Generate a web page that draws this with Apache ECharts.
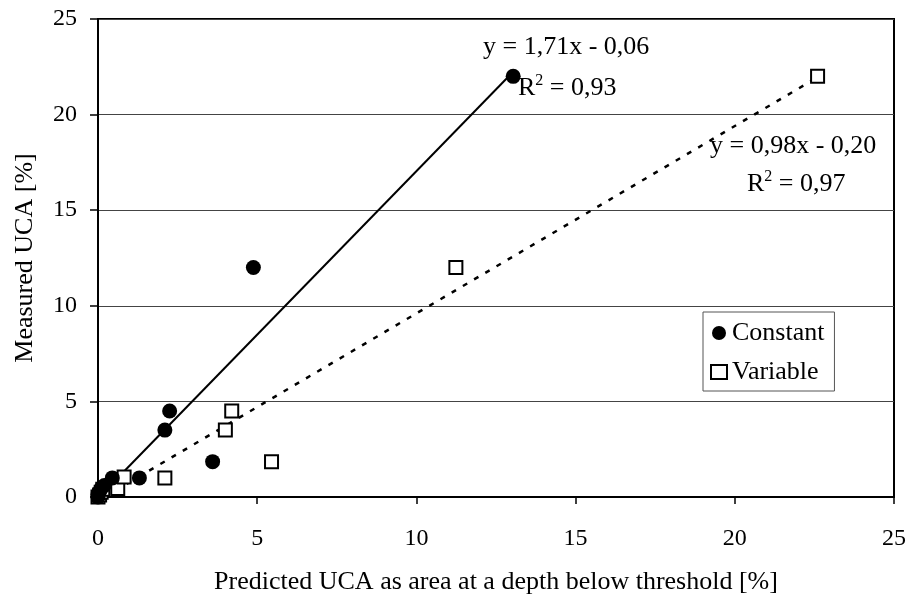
<!DOCTYPE html>
<html>
<head>
<meta charset="utf-8">
<script src="https://cdn.jsdelivr.net/npm/echarts@6/dist/echarts.min.js"></script>
<style>
html,body{margin:0;padding:0;background:#fff;}
#chart{width:910px;height:600px;}
</style>
</head>
<body>
<div id="chart"></div>
<script>
// Data
const constantPoints = [
  [0, 0], [0, 0.15], [0.05, 0.3], [0.1, 0.45], [0.2, 0.6],
  [0.45, 1.0], [1.3, 1.0], [2.1, 3.5], [2.25, 4.5], [3.6, 1.85],
  [4.88, 12], [13.04, 22]
];
const variablePoints = [
  [0, 0], [0.05, 0.1], [0.1, 0.25], [0.15, 0.4],
  [0.62, 0.45], [0.82, 1.05], [2.1, 1.0], [4.0, 3.5], [4.2, 4.5],
  [5.45, 1.85], [11.24, 12], [22.6, 22]
];
// trend line endpoints
const constantTrend = [[0.035, 0], [13.04, 22.24]];
const variableTrend = [[0.2, 0], [22.6, 21.95]];
const seriesNames = ['Constant', 'Variable'];
const constantEq = ['y = 1,71x - 0,06', '0,93'];
const variableEq = ['y = 0,98x - 0,20', '0,97'];
const axisTicks = [0, 5, 10, 15, 20, 25];

const FONT = 'Liberation Serif';
const chart = echarts.init(document.getElementById('chart'), null, {renderer: 'canvas'});

function r2Text(val) {
  return '{n|R}{s|2}{n| = ' + val + '}';
}
const r2Rich = {
  n: {fontFamily: FONT, fontSize: 26, fill: '#000', lineHeight: 28, verticalAlign: 'bottom'},
  s: {fontFamily: FONT, fontSize: 16, fill: '#000', lineHeight: 28, verticalAlign: 'top'}
};

chart.setOption({
  animation: false,
  backgroundColor: '#fff',
  textStyle: {fontFamily: FONT, color: '#000'},
  grid: {
    left: 98, top: 19, right: 16, bottom: 103,
    show: true, borderColor: '#000', borderWidth: 2, backgroundColor: 'transparent'
  },
  xAxis: {
    type: 'value', min: axisTicks[0], max: axisTicks[axisTicks.length - 1], interval: 5,
    name: 'Predicted UCA as area at a depth below threshold [%]',
    nameLocation: 'middle', nameGap: 72,
    nameTextStyle: {fontFamily: FONT, fontSize: 26, color: '#000'},
    axisLine: {show: true, lineStyle: {color: '#000', width: 2}},
    axisTick: {show: true, inside: false, length: 7, lineStyle: {color: '#000', width: 1.5}},
    axisLabel: {fontFamily: FONT, fontSize: 24, color: '#000', margin: 30},
    splitLine: {show: false}
  },
  yAxis: {
    type: 'value', min: axisTicks[0], max: axisTicks[axisTicks.length - 1], interval: 5,
    name: 'Measured UCA [%]',
    nameLocation: 'middle', nameGap: 60,
    nameTextStyle: {fontFamily: FONT, fontSize: 26, color: '#000'},
    axisLine: {show: true, lineStyle: {color: '#000', width: 2}},
    axisTick: {show: true, inside: false, length: 8, lineStyle: {color: '#000', width: 1.5}},
    axisLabel: {fontFamily: FONT, fontSize: 24, color: '#000', margin: 21},
    splitLine: {show: true, lineStyle: {color: '#444', width: 1}}
  },
  legend: {
    data: [
      {name: seriesNames[0], icon: 'circle'},
      {name: seriesNames[1], icon: 'rect'}
    ],
    orient: 'vertical',
    left: 703, top: 312,
    padding: [8, 10, 6, 7],
    itemGap: 13,
    itemWidth: 16, itemHeight: 14,
    backgroundColor: '#fff',
    borderColor: '#555', borderWidth: 1, borderRadius: 0,
    textStyle: {fontFamily: FONT, fontSize: 26, color: '#000', lineHeight: 26}
  },
  series: [
    {
      name: 'ConstantTrend', type: 'line', data: constantTrend,
      symbol: 'none', silent: true, z: 1,
      lineStyle: {color: '#000', width: 2}
    },
    {
      name: 'VariableTrend', type: 'line', data: variableTrend,
      symbol: 'none', silent: true, z: 1,
      lineStyle: {color: '#000', width: 2.5, type: [5, 8]}
    },
    {
      name: seriesNames[0], type: 'scatter', data: constantPoints,
      symbol: 'circle', symbolSize: 15, z: 3,
      itemStyle: {color: '#000', opacity: 1}
    },
    {
      name: seriesNames[1], type: 'scatter', data: variablePoints,
      symbol: 'rect', symbolSize: 13, z: 2,
      itemStyle: {color: '#fff', borderColor: '#000', borderWidth: 2, opacity: 1}
    }
  ],
  graphic: [
    {
      type: 'text', left: 483, top: 34, z: 10,
      style: {text: constantEq[0], fontFamily: FONT, fontSize: 26, fill: '#000'}
    },
    {
      type: 'text', left: 518, top: 73, z: 10,
      style: {text: r2Text(constantEq[1]), rich: r2Rich}
    },
    {
      type: 'text', left: 710, top: 133, z: 10,
      style: {text: variableEq[0], fontFamily: FONT, fontSize: 26, fill: '#000'}
    },
    {
      type: 'text', left: 747, top: 169, z: 10,
      style: {text: r2Text(variableEq[1]), rich: r2Rich}
    }
  ]
});
</script>
</body>
</html>
